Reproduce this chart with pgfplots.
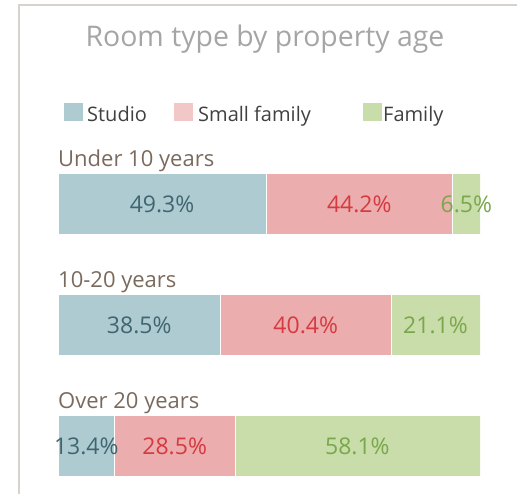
\documentclass[border=0pt]{standalone}
\usepackage{pgfplots}
\pgfplotsset{compat=1.18}
\usepackage{fontspec}
\setmainfont{Open Sans}
\definecolor{studio}{HTML}{AECBD1}
\definecolor{smallf}{HTML}{EBADAD}
\definecolor{smallleg}{HTML}{F2C7C7}
\definecolor{family}{HTML}{C8DDA9}
\definecolor{studiotxt}{HTML}{3F6670}
\definecolor{smalltxt}{HTML}{D63A40}
\definecolor{familytxt}{HTML}{7AA74B}
\definecolor{titlec}{HTML}{A5A5A5}
\definecolor{catc}{HTML}{7A6A5D}
\definecolor{legc}{HTML}{404040}
\definecolor{framec}{HTML}{D9D1CB}
\begin{document}
\begin{tikzpicture}[x=1pt,y=1pt]
\useasboundingbox (0,0) rectangle (517,494);
\draw[framec, line width=1.5pt] (19,-5) -- (19,489) -- (522,489);
\node[anchor=base, text=titlec, font=\fontsize{28.4}{33}\selectfont, inner sep=0pt] at (265,447) {Room type by property age};
\begin{axis}[
  at={(58pt,-12.5pt)}, anchor=south west, scale only axis,
  width=422pt, height=363pt,
  xmin=0, xmax=100, ymin=-0.5, ymax=2.5, enlargelimits=false,
  xbar stacked, bar width=61pt,
  axis line style={draw=none}, xtick=\empty,
  ytick={0,1,2}, yticklabels={Over 20 years,10-20 years,Under 10 years},
  major tick length=0pt,
  yticklabel style={anchor=base west, inner sep=0pt, yshift=37pt, text=catc, font=\fontsize{22}{26}\selectfont},
  legend columns=3,
  legend style={at={(rel axis cs:0.01422,1.0833)}, anchor=west, draw=none, fill=none,
    inner sep=0pt, nodes={inner sep=0pt, text=legc, font=\fontsize{20}{24}\selectfont},
    /tikz/every even column/.append style={column sep=0pt},
    /tikz/every odd column/.append style={column sep=0pt}},
  legend image code/.code={\fill[#1,draw=none] (0pt,-6.3pt) rectangle (19pt,11.7pt);},
]
\addplot[fill=studio, draw=white, line width=0.4pt] coordinates {(13.4,0) (38.5,1) (49.3,2)};
\addlegendentry{\makebox[91pt][l]{\hspace{4pt}Studio}}
\addplot[fill=smallf, draw=white, line width=0.4pt, legend image post style={fill=smallleg}] coordinates {(28.5,0) (40.4,1) (44.2,2)};
\addlegendentry{\makebox[170pt][l]{\hspace{5pt}Small family}}
\addplot[fill=family, draw=white, line width=0.4pt] coordinates {(58.1,0) (21.1,1) (6.5,2)};
\addlegendentry{\makebox[62pt][l]{\hspace{1pt}Family}}
\end{axis}
\begin{axis}[
  at={(58pt,-12.5pt)}, anchor=south west, scale only axis,
  width=422pt, height=363pt,
  xmin=0, xmax=100, ymin=-0.5, ymax=2.5, enlargelimits=false,
  hide axis, clip=false,
  nodes near coords style={anchor=center, inner sep=0pt, font=\fontsize{23}{27}\selectfont},
]
\addplot[draw=none, nodes near coords, point meta=explicit symbolic,
  nodes near coords style={text=studiotxt}]
  coordinates {(6.7,0) [13.4\%] (19.25,1) [38.5\%] (24.65,2) [49.3\%]};
\addplot[draw=none, nodes near coords, point meta=explicit symbolic,
  nodes near coords style={text=smalltxt}]
  coordinates {(27.65,0) [28.5\%] (58.7,1) [40.4\%] (71.4,2) [44.2\%]};
\addplot[draw=none, nodes near coords, point meta=explicit symbolic,
  nodes near coords style={text=familytxt}]
  coordinates {(70.95,0) [58.1\%] (89.45,1) [21.1\%] (96.75,2) [6.5\%]};
\end{axis}
\end{tikzpicture}
\end{document}
